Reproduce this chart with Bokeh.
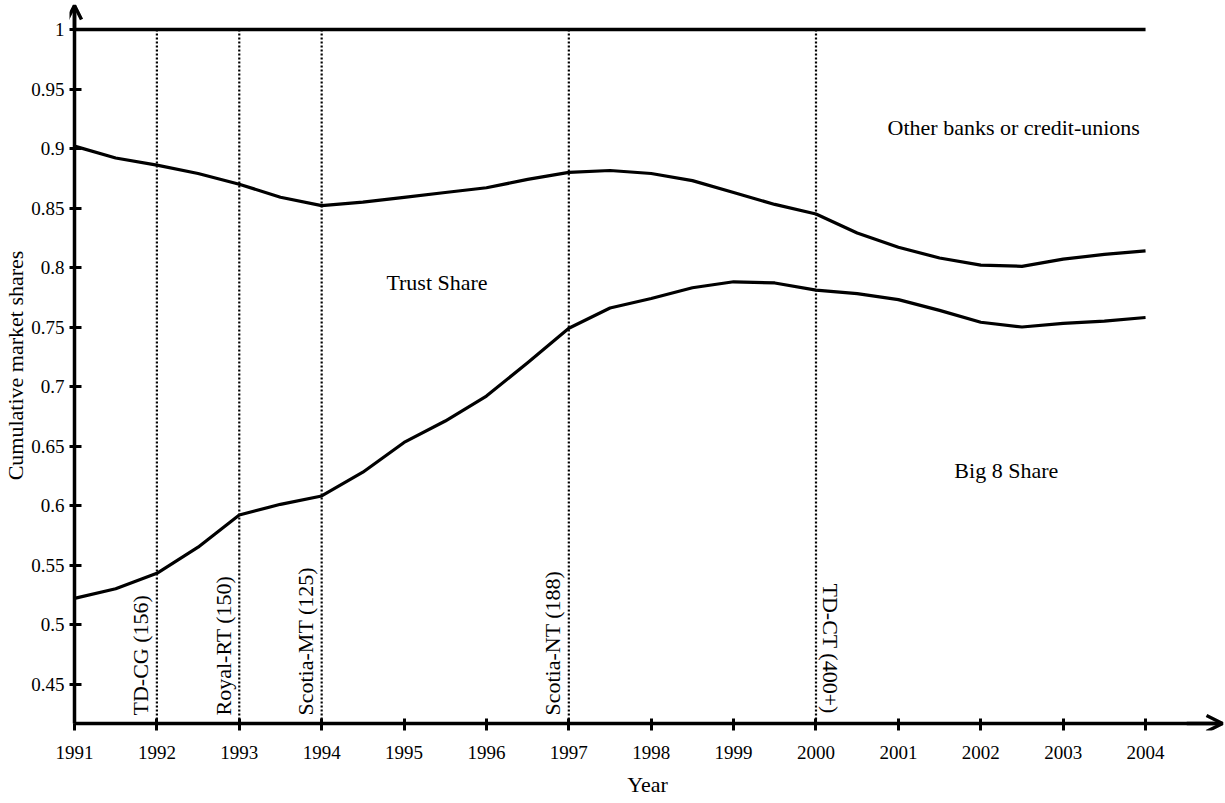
import math
from bokeh.plotting import figure
from bokeh.models import FixedTicker, Arrow, OpenHead, Range1d, LinearAxis
from bokeh.core.properties import value
from bokeh.embed import file_html
from bokeh.resources import INLINE

# ---- data ----
years = [1991, 1991.5, 1992, 1992.5, 1993, 1993.5, 1994, 1994.5, 1995, 1995.5,
         1996, 1996.5, 1997, 1997.5, 1998, 1998.5, 1999, 1999.5, 2000, 2000.5,
         2001, 2001.5, 2002, 2002.5, 2003, 2003.5, 2004]
big8_share = [0.522, 0.530, 0.543, 0.565, 0.592, 0.601, 0.608, 0.628, 0.653, 0.671,
              0.692, 0.720, 0.749, 0.766, 0.774, 0.783, 0.788, 0.787, 0.781, 0.778,
              0.773, 0.764, 0.754, 0.750, 0.753, 0.755, 0.758]
big8_plus_trust = [0.902, 0.892, 0.886, 0.879, 0.870, 0.859, 0.852, 0.855, 0.859, 0.863,
                   0.867, 0.874, 0.880, 0.8815, 0.879, 0.873, 0.863, 0.853, 0.845, 0.829,
                   0.817, 0.808, 0.802, 0.801, 0.807, 0.811, 0.814]
total_years = [1991, 2004]
total_share = [1.0, 1.0]

event_years = [1992, 1993, 1994, 1997, 2000]
event_labels = ["TD-CG (156)", "Royal-RT (150)", "Scotia-MT (125)", "Scotia-NT (188)", "TD-CT (400+)"]

x_ticks = [1991, 1992, 1993, 1994, 1995, 1996, 1997, 1998, 1999, 2000, 2001, 2002, 2003, 2004]
x_tick_labels = ["1991", "1992", "1993", "1994", "1995", "1996", "1997", "1998", "1999",
                 "2000", "2001", "2002", "2003", "2004"]
y_ticks = [0.45, 0.5, 0.55, 0.6, 0.65, 0.7, 0.75, 0.8, 0.85, 0.9, 0.95, 1.0]
y_tick_labels = ["0.45", "0.5", "0.55", "0.6", "0.65", "0.7", "0.75", "0.8", "0.85", "0.9", "0.95", "1"]

region_labels = ["Other banks or credit-unions", "Trust Share", "Big 8 Share"]
region_x = [2002.40, 1995.40, 2002.31]
region_y = [0.9176, 0.7874, 0.6294]

# ---- layout (pixel geometry) ----
FONT = "Liberation Serif"
W, H = 1225, 803
PX_X = 82.46          # px per year
PX_Y = 1190.0         # px per unit share
AX_X = 73             # page x of the y axis line (1991)
AX_Y_PX = 723         # page y of the x axis line
Y1_PX = 29            # page y of share = 1.0
FRAME_L, FRAME_R, FRAME_T, FRAME_B = 68, W, 0, 730

X0 = 1991 - (AX_X - FRAME_L) / PX_X
X1 = 1991 + (FRAME_R - AX_X) / PX_X
Y1 = 1 + (Y1_PX - FRAME_T) / PX_Y
Y0 = 1 - (FRAME_B - Y1_PX) / PX_Y
AXIS_Y = 1 - (AX_Y_PX - Y1_PX) / PX_Y
TOP_TIP = 1 + (Y1_PX - 5) / PX_Y
RIGHT_TIP = 1991 + (1222 - AX_X) / PX_X

def py2y(py):
    return 1 - (py - Y1_PX) / PX_Y

p = figure(width=W, height=H, output_backend="svg", toolbar_location=None,
           x_range=Range1d(X0, X1), y_range=Range1d(Y0, Y1),
           min_border_left=FRAME_L, min_border_right=W - FRAME_R,
           min_border_top=FRAME_T, min_border_bottom=H - FRAME_B)
p.outline_line_color = None
p.xgrid.visible = False
p.ygrid.visible = False
p.background_fill_color = "white"
p.border_fill_color = "white"

# --- label axes at the frame edges (tick labels + titles, outer part of ticks) ---
xa = p.xaxis[0]
ya = p.yaxis[0]
for ax in (xa, ya):
    ax.axis_line_color = None
    ax.major_tick_line_width = 3
    ax.major_tick_line_color = "black"
    ax.major_tick_out = 0
    ax.minor_tick_line_color = None
    ax.major_label_text_font = FONT
    ax.major_label_text_font_size = "19px"
    ax.major_label_text_color = "black"
    ax.axis_label_text_font = FONT
    ax.axis_label_text_font_size = "22px"
    ax.axis_label_text_font_style = "normal"
    ax.axis_label_text_color = "black"

xa.ticker = FixedTicker(ticks=x_ticks)
xa.major_label_overrides = {t: l for t, l in zip(x_ticks, x_tick_labels)}
xa.major_tick_in = FRAME_B - AX_Y_PX
xa.major_label_standoff = 15
xa.axis_label = "Year"
xa.axis_label_standoff = 10

ya.ticker = FixedTicker(ticks=y_ticks)
ya.major_label_overrides = {t: l for t, l in zip(y_ticks, y_tick_labels)}
ya.major_tick_in = AX_X - FRAME_L
ya.major_label_standoff = 5
ya.axis_label = "Cumulative market shares"
ya.axis_label_standoff = 0

# --- axis lines at the data origin (line + inner part of ticks) ---
xline = LinearAxis(ticker=FixedTicker(ticks=x_ticks), fixed_location=AXIS_Y,
                   bounds=(1991, RIGHT_TIP),
                   major_label_overrides={t: "" for t in x_ticks})
yline = LinearAxis(ticker=FixedTicker(ticks=y_ticks), fixed_location=1991,
                   bounds=(AXIS_Y, TOP_TIP),
                   major_label_overrides={t: "" for t in y_ticks})
for ax, tin in ((xline, 5), (yline, 7)):
    ax.axis_line_width = 3.5
    ax.axis_line_color = "black"
    ax.major_tick_line_width = 3
    ax.major_tick_line_color = "black"
    ax.major_tick_in = tin
    ax.major_tick_out = 0
    ax.minor_tick_line_color = None
    ax.major_label_standoff = 0
    ax.major_label_text_font_size = "1px"
p.add_layout(xline, "below")
p.add_layout(yline, "left")

# event lines (dotted)
p.segment(x0=event_years, x1=event_years, y0=[AXIS_Y] * len(event_years), y1=[1.0] * len(event_years),
          line_color="black", line_width=2.2, line_dash="2 2")

# curves
p.line(total_years, total_share, line_color="black", line_width=3.3)
p.line(years, big8_plus_trust, line_color="black", line_width=3.2, line_join="round")
p.line(years, big8_share, line_color="black", line_width=3.2, line_join="round")

# event labels
p.text(x=event_years[:4], y=[py2y(715)] * 4, text=event_labels[:4], angle=math.pi / 2,
       text_align="left", text_baseline="middle", x_offset=-16,
       text_font=value(FONT), text_font_size="22px", text_color="black")
p.text(x=event_years[4:], y=[py2y(583)], text=event_labels[4:], angle=-math.pi / 2,
       text_align="left", text_baseline="middle", x_offset=15,
       text_font=value(FONT), text_font_size="22px", text_color="black")

# region labels
p.text(x=region_x, y=region_y, text=region_labels, text_align="center", text_baseline="middle",
       text_font=value(FONT), text_font_size="22px", text_color="black")

# arrow heads on axes
p.add_layout(Arrow(end=OpenHead(size=14, line_width=3.5, line_color="black"),
                   x_start=1991, y_start=1.0, x_end=1991, y_end=TOP_TIP,
                   line_width=3.5, line_color="black"))
p.add_layout(Arrow(end=OpenHead(size=16, line_width=3.5, line_color="black"),
                   x_start=2004.5, y_start=AXIS_Y, x_end=RIGHT_TIP, y_end=AXIS_Y,
                   line_width=3.5, line_color="black"))

open("out.html", "w").write(file_html(p, INLINE))
